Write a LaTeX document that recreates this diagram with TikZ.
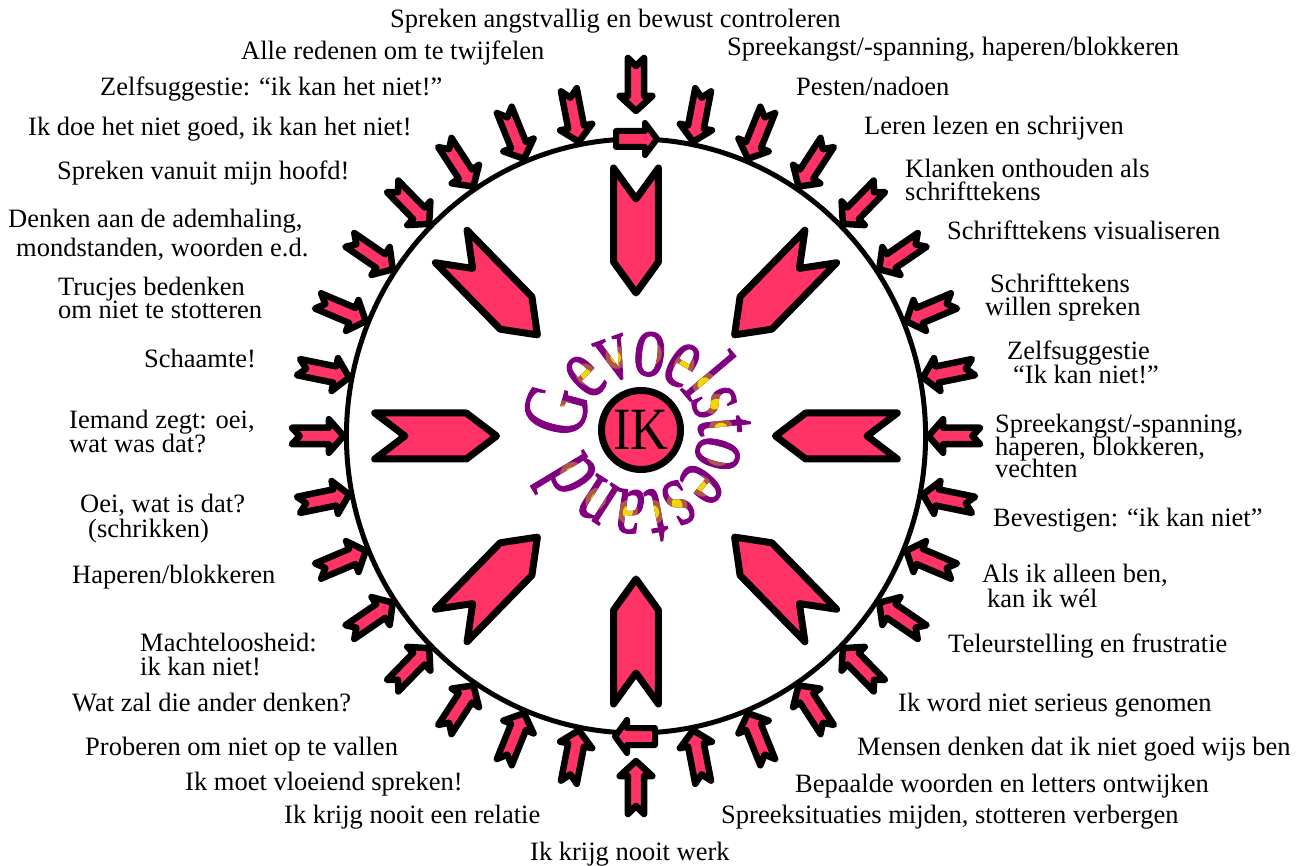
\documentclass[tikz,border=0pt]{standalone}
\usepackage{fontspec}
\setmainfont{Liberation Serif}
\newfontfamily\gvfont[FakeBold=1.2]{Liberation Serif}
\usepackage{graphicx}
\definecolor{pk}{RGB}{255,51,102}
\definecolor{pur}{RGB}{128,0,128}
\definecolor{gold}{RGB}{240,215,0}
\newcommand\gfont{\gvfont\fontsize{65}{65}\selectfont}
\tikzset{
  lab/.style={anchor=base west, inner sep=0pt, font=\fontsize{26.5}{23}\selectfont, text=black},
  smallarrow/.style={fill=pk, draw=black, line width=6.5pt, line join=round},
  chevron/.style={fill=pk, draw=black, line width=7pt, line join=round},
  ring/.style={draw=black, line width=5pt},
  glyph/.style={anchor=base, inner sep=0pt, text=pur, font=\gfont, transform shape, yscale=1.42},
}
\begin{document}
\begin{tikzpicture}[x=1pt,y=1pt]
\useasboundingbox (0,0) rectangle (1308,865);
\fill[white] (0,0) rectangle (1308,865);

\begin{scope}[shift={(636,429)}, xscale=0.975]
  \draw[ring] (0,0) circle (297);
  \foreach \a in {0,45,...,315} {
    \draw[chevron, rotate=\a] (143,0) -- (174,23) -- (268,23) -- (237,0) -- (268,-23) -- (174,-23) -- cycle;
  }
  \foreach \k in {0,...,31} {
    \pgfmathsetmacro{\ang}{90-11.25*\k}
    \ifnum\k=0 \def\rt{325}\else\ifnum\k=16 \def\rt{325}\else\def\rt{300}\fi\fi
    \draw[smallarrow, rotate=\ang] (\rt,0) -- ++(15,16.75) -- ++(0,-8.5) -- ++(38,0) -- ++(-8,-8.25) -- ++(8,-8.25) -- ++(-38,0) -- ++(0,-8.5) -- cycle;
  }
\end{scope}

% circulation arrows on the ring
\draw[smallarrow, line width=6pt] (616,734) -- (645,734) -- (645,742) -- (657,726) -- (645,710) -- (645,718) -- (616,718) -- cycle;
\draw[smallarrow, line width=6pt] (615,128.5) -- (627,145) -- (627,137) -- (655,137) -- (655,120) -- (627,120) -- (627,112) -- cycle;

% centre
\node[circle, draw=black, line width=7pt, fill=pk, minimum size=79pt, inner sep=0pt] (ik) at (641,435) {\fontsize{60}{60}\selectfont\scalebox{0.87}[1]{IK}};

\begin{scope}[shift={(641,432)}]
  \gdef\curang{184}
  \foreach \ch/\w [count=\i] in {G/.722,e/.444,v/.5,o/.5,e/.444,l/.278,s/.389,t/.278,o/.5,e/.444,s/.389,t/.278,a/.444,n/.5,d/.5}{%
    \pgfmathsetmacro{\dang}{\w/6.61*346}%
    \pgfmathsetmacro{\midang}{\curang-\dang/2}%
    \begin{scope}[rotate=\midang-90, yshift=58]
      \node[glyph] (g\i) at (0,0) {\ch};
      \begin{scope}
        \clip (2,22) ellipse [x radius=10, y radius=12];
        \node[glyph, text=pur!60!gold] (g\i a) at (0,0) {\ch};
      \end{scope}
      \begin{scope}
        \clip (2,22) ellipse [x radius=5, y radius=6.5];
        \node[glyph, text=gold] (g\i b) at (0,0) {\ch};
      \end{scope}
    \end{scope}
    \pgfmathsetmacro{\tmpv}{\curang-\dang}\xdef\curang{\tmpv}%
  }
\end{scope}

% labels top / bottom
\node[lab] (t) at (390,837) {Spreken angstvallig en bewust controleren};
\node[lab] (b) at (530,5) {Ik krijg nooit werk};
% right side
\node[lab] (r1) at (727,809) {Spreekangst/-spanning, haperen/blokkeren};
\node[lab] (r2) at (796,769) {Pesten/nadoen};
\node[lab] (r3) at (864,730) {Leren lezen en schrijven};
\node[lab] (r4a) at (905,687) {Klanken onthouden als};
\node[lab] (r4b) at (905,664) {schrifttekens};
\node[lab] (r5) at (947,625) {Schrifttekens visualiseren};
\node[lab] (r6a) at (990,572) {Schrifttekens};
\node[lab] (r6b) at (985,549) {willen spreken};
\node[lab] (r7a) at (1007,505) {Zelfsuggestie};
\node[lab] (r7b) at (1013,481) {“Ik kan niet!”};
\node[lab] (r8a) at (995,432) {Spreekangst/-spanning,};
\node[lab] (r8b) at (995,409) {haperen, blokkeren,};
\node[lab] (r8c) at (995,387) {vechten};
\node[lab] (r9) at (993,338) {Bevestigen: “ik kan niet”};
\node[lab] (r10a) at (982,282) {Als ik alleen ben,};
\node[lab] (r10b) at (987,258) {kan ik wél};
\node[lab] (r11) at (948,213) {Teleurstelling en frustratie};
\node[lab] (r12) at (898,154) {Ik word niet serieus genomen};
\node[lab] (r13) at (857,110) {Mensen denken dat ik niet goed wijs ben};
\node[lab] (r14) at (795,73) {Bepaalde woorden en letters ontwijken};
\node[lab] (r15) at (721,42) {Spreeksituaties mijden, stotteren verbergen};
% left side
\node[lab] (l1) at (241,805) {Alle redenen om te twijfelen};
\node[lab] (l2) at (100,769) {Zelfsuggestie: “ik kan het niet!”};
\node[lab] (l3) at (28,729) {Ik doe het niet goed, ik kan het niet!};
\node[lab] (l4) at (57,685) {Spreken vanuit mijn hoofd!};
\node[lab] (l5a) at (8,637) {Denken aan de ademhaling,};
\node[lab] (l5b) at (16,608) {mondstanden, woorden e.d.};
\node[lab] (l6a) at (58,569) {Trucjes bedenken};
\node[lab] (l6b) at (58,546) {om niet te stotteren};
\node[lab] (l7) at (144,497) {Schaamte!};
\node[lab] (l8a) at (69,436) {Iemand zegt: oei,};
\node[lab] (l8b) at (69,412) {wat was dat?};
\node[lab] (l9a) at (80,352) {Oei, wat is dat?};
\node[lab] (l9b) at (88,327) {(schrikken)};
\node[lab] (l10) at (72,281) {Haperen/blokkeren};
\node[lab] (l11a) at (140,214) {Machteloosheid:};
\node[lab] (l11b) at (140,190) {ik kan niet!};
\node[lab] (l12) at (72,154) {Wat zal die ander denken?};
\node[lab] (l13) at (85,110) {Proberen om niet op te vallen};
\node[lab] (l14) at (185,75) {Ik moet vloeiend spreken!};
\node[lab] (l15) at (284,42) {Ik krijg nooit een relatie};
\end{tikzpicture}
\end{document}
